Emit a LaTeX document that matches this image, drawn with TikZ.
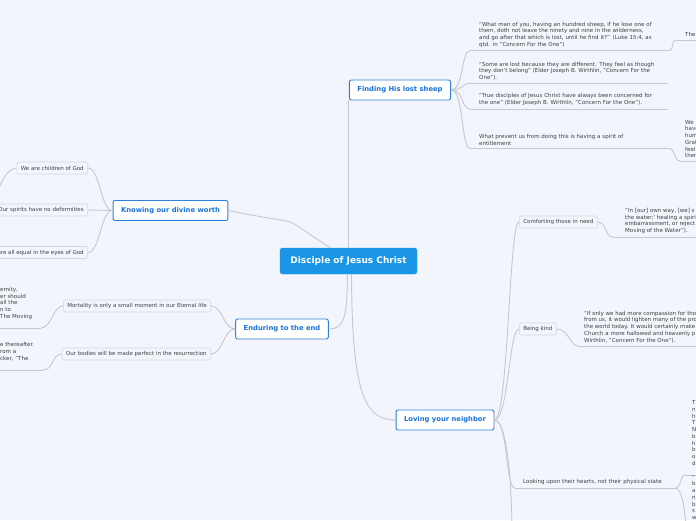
\documentclass[tikz,border=0pt]{standalone}
\usepackage{fontspec}
\setmainfont{DejaVu Sans}
\definecolor{bg}{HTML}{F3F5FC}
\definecolor{cblue}{HTML}{1B95E6}
\definecolor{tblue}{HTML}{2F80D8}
\definecolor{ttext}{HTML}{1A73D6}
\definecolor{conn}{HTML}{C6C8CE}
\definecolor{subdraw}{HTML}{D5D7DE}
\definecolor{txt}{HTML}{404040}
\tikzset{
  central/.style={fill=cblue, draw=cblue, rounded corners=2.5pt, text=white,
    font=\fontsize{9}{10}\selectfont\bfseries, minimum width=137pt, minimum height=26pt, inner sep=0pt},
  topic/.style={fill=white, draw=tblue, line width=0.9pt, rounded corners=2pt, text=ttext,
    font=\fontsize{6.8}{8}\selectfont\bfseries, minimum height=20pt, inner xsep=8pt, inner ysep=0pt},
  sub/.style={fill=bg, draw=subdraw, line width=0.6pt, rounded corners=1.5pt, text=txt,
    font=\fontsize{5.5}{6.7}\selectfont, minimum height=12pt, inner xsep=4pt, inner ysep=0pt},
  leaf/.style={text=txt, font=\fontsize{5.5}{6.7}\selectfont, align=left, inner xsep=9pt,
    inner ysep=3pt, anchor=south west},
  link/.style={draw=conn, line width=0.9pt},
  uline/.style={append after command={(\tikzlastnode.south west) edge[link] (\tikzlastnode.south east)}}
}
\begin{document}
\begin{tikzpicture}[x=1pt,y=-1pt]
\useasboundingbox (0,0) rectangle (696,520);
\clip (0,0) rectangle (696,520);
\fill[bg] (0,0) rectangle (696,520);

% main nodes
\node[central] (c) at (348.5,261) {Disciple of Jesus Christ};
\node[topic] (fhl) at (400,90) {Finding His lost sheep};
\node[topic] (kdw) at (170.5,210.5) {Knowing our divine worth};
\node[topic] (ete) at (282,329) {Enduring to the end};
\node[topic] (lyn) at (445,420) {Loving your neighbor};

% sub nodes
\node[sub, anchor=east] (wac) at (88,168) {We are children of God};
\node[sub, anchor=east] (osd) at (88,210) {Our spirits have no deformities};
\node[sub, anchor=east] (wae) at (88,252.5) {We are all equal in the eyes of God};
\node[sub, anchor=east] (mor) at (211,306) {Mortality is only a small moment in our Eternal life};
\node[sub, anchor=east] (obp) at (211,354) {Our bodies will be made perfect in the resurrection};
\node[sub, anchor=west] (cti) at (519,222) {Comforting those in need};
\node[sub, anchor=west] (bk) at (519,329) {Being kind};

% leaves: Finding His lost sheep
\node[leaf, uline, text width=180pt] (q1) at (470,50.5) {“What man of you, having an hundred sheep, if he lose one of\\them, doth not leave the ninety and nine in the wilderness,\\and go after that which is lost, until he find it?” (Luke 15:4, as\\qtd. in "Concern For the One")};
\node[leaf, uline, text width=180pt] (q2) at (470,83.5) {“Some are lost because they are different. They feel as though\\they don’t belong” (Elder Joseph B. Wirthlin, "Concern For the\\One").};
\node[leaf, uline, text width=180pt] (q3) at (470,109) {“True disciples of Jesus Christ have always been concerned for\\the one” (Elder Joseph B. Wirthlin, "Concern For the One").};
\node[leaf, uline, text width=180pt] (q4) at (470,148.3) {What prevent us from doing this is having a spirit of\\entitlement};
\node[leaf, uline] (q1c) at (676,40) {The};
\node[leaf, uline, inner xsep=5pt] (q4c) at (680,161) {We\\have\\hum\\Grat\\feel\\ther};

% leaves: Enduring to the end
\node[leaf, uline] (mfrag) at (-9,328) {ernity,\\er should\\all the\\n to\\The Moving\\\mbox{}};
\node[leaf, uline] (bfrag) at (-9,370) {e thereafter.\\rom a\\cker, "The\\\mbox{}};

% leaves: Loving your neighbor
\node[leaf, uline, inner xsep=12pt] (ctic) at (613,237) {“In [our] own way, [we] s\\the water;’ healing a spirit\\embarrassment, or reject\\Moving of the Water").};
\node[leaf, uline, inner xsep=6pt] (bkc) at (578,346) {“If only we had more compassion for tho\\from us, it would lighten many of the pro\\the world today. It would certainly make\\Church a more hallowed and heavenly p\\Wirthlin, "Concern For the One").};
\node[leaf, uline, text width=144pt, inner xsep=8pt] (lup) at (515,488) {Looking upon their hearts, not their physical state};
\node[leaf, uline, inner xsep=7pt] (lupa) at (685,475) {T\\n\\h\\T\\N\\b\\h\\b\\o\\d\\\mbox{}};
\node[leaf, anchor=north west, inner xsep=7pt] (lupb) at (685,472) {“\\b\\a\\n\\b\\s\\w};

% off-canvas ends
\coordinate (k1off) at (-2,192);
\coordinate (lovoff) at (512,535);
\coordinate (lupboff) at (686,535);

% connectors from centre
\draw[link] (c.north) -- (c.north |- fhl.south);
\draw[link] ([xshift=-18pt]c.north) .. controls (272,210.5) and (312,228) .. (kdw.east);
\draw[link] ([xshift=-1pt]c.south) .. controls (347,315) and (345,329) .. (ete.east);
\draw[link] ([xshift=3pt]c.south) .. controls (352,395) and (365,420) .. (lyn.west);

% Finding
\foreach \q in {q1,q2,q3,q4}
  \draw[link] (fhl.east) .. controls +(13,0) and +(-9,0) .. (\q.south west);
\draw[link] (q1.south east) .. controls +(7,0) and +(-6,0) .. (q1c.south west);
\draw[link] (q4.south east) .. controls +(7,0) and +(-6,0) .. (q4c.south west);

% Knowing
\foreach \s in {wac,osd,wae}
  \draw[link] (kdw.west) .. controls +(-12,0) and +(12,0) .. (\s.east);
\draw[link] (wac.west) .. controls +(-8,0) and +(2,-10) .. (k1off);

% Enduring
\foreach \s in {mor,obp}
  \draw[link] (ete.west) .. controls +(-12,0) and +(12,0) .. (\s.east);
\draw[link] (mor.west) .. controls +(-10,0) and +(10,0) .. (mfrag.south east);
\draw[link] (obp.west) .. controls +(-10,0) and +(10,0) .. (bfrag.south east);

% Loving
\draw[link] (lyn.east) .. controls +(14,0) and +(-10,0) .. (cti.west);
\draw[link] (lyn.east) .. controls +(14,0) and +(-10,0) .. (bk.west);
\draw[link] (lyn.east) .. controls +(14,0) and +(-10,0) .. (lup.south west);
\draw[link] (lyn.east) .. controls +(14,0) and +(0,-40) .. (lovoff);
\draw[link] (cti.east) .. controls +(9,0) and +(-8,0) .. (ctic.south west);
\draw[link] (bk.east) .. controls +(12,0) and +(-8,0) .. (bkc.south west);
\draw[link] (lup.south east) .. controls +(6,0) and +(-5,0) .. (lupa.south west);
\draw[link] (lup.south east) .. controls +(6,0) and +(0,-25) .. (lupboff);
\end{tikzpicture}
\end{document}
